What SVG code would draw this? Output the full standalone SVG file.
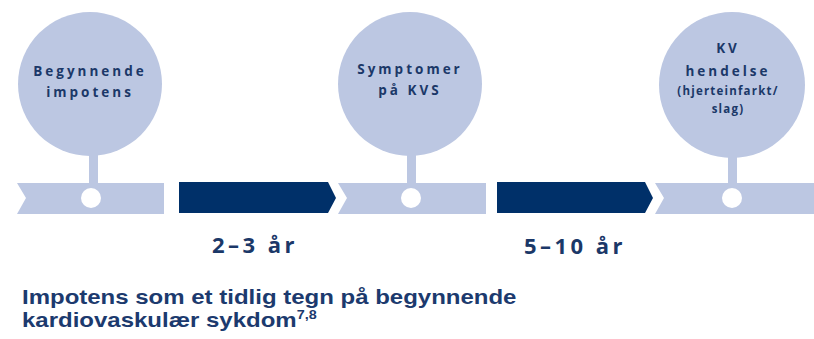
<svg xmlns="http://www.w3.org/2000/svg" width="814" height="339" viewBox="0 0 814 339">
<style>
.light{fill:#bcc7e2}
.dark{fill:#003069}
.dot{fill:#ffffff}
.nt{font-family:"Open Sans","Liberation Sans",sans-serif;font-weight:bold;fill:#1b3868;text-anchor:middle;letter-spacing:3px}
.big{font-size:13.5px}
.small{font-size:11.5px;letter-spacing:1.2px}
.yr{font-family:"Open Sans","Liberation Sans",sans-serif;font-weight:bold;font-size:22px;fill:#1b3868;text-anchor:middle;letter-spacing:3.5px}
.cap{font-family:"Liberation Sans",Arial,sans-serif;font-weight:bold;font-size:20px;fill:#1c3a6e}
</style>
<rect width="814" height="339" fill="#ffffff"/>
<g id="connectors">
<polygon class="dark" points="179,182 328,182 336,198 328,213 179,213"/>
<polygon class="dark" points="497,182 645,182 653,198 645,213 497,213"/>
</g>
<g id="node1">
<circle class="light" cx="90" cy="84" r="72"/>
<rect class="light" x="89" y="150" width="9" height="34"/>
<polygon class="light" points="17,183 164,183 164,214 17,214 26,198"/>
<circle class="dot" cx="91" cy="198" r="10"/>
<text class="nt big" x="90" y="76">Begynnende</text>
<text class="nt big" x="90" y="97">impotens</text>
</g>
<g id="node2">
<circle class="light" cx="410" cy="84" r="72"/>
<rect class="light" x="407" y="150" width="9" height="34"/>
<polygon class="light" points="338,183 486,183 486,214 338,214 347,198"/>
<circle class="dot" cx="411" cy="198" r="10"/>
<text class="nt big" x="410" y="74">Symptomer</text>
<text class="nt big" x="410" y="95">på KVS</text>
</g>
<g id="node3">
<circle class="light" cx="732" cy="85" r="73"/>
<rect class="light" x="728" y="150" width="9" height="34"/>
<polygon class="light" points="655,183 814,183 814,214 655,214 664,198"/>
<circle class="dot" cx="732" cy="198" r="10"/>
<text class="nt big" x="728" y="53">KV</text>
<text class="nt big" x="728" y="76">hendelse</text>
<text class="nt small" x="728" y="95">(hjerteinfarkt/</text>
<text class="nt small" x="728" y="113">slag)</text>
</g>
<g id="labels">
<text class="yr" x="255" y="253">2–3 år</text>
<text class="yr" x="575" y="254">5–10 år</text>
<g transform="translate(22,0) scale(1.2,1)">
<text class="cap" x="0" y="304">Impotens som et tidlig tegn på begynnende</text>
<text class="cap" x="0" y="327">kardiovaskulær sykdom<tspan font-size="12" dy="-8">7,8</tspan></text>
</g>
</g>
</svg>
